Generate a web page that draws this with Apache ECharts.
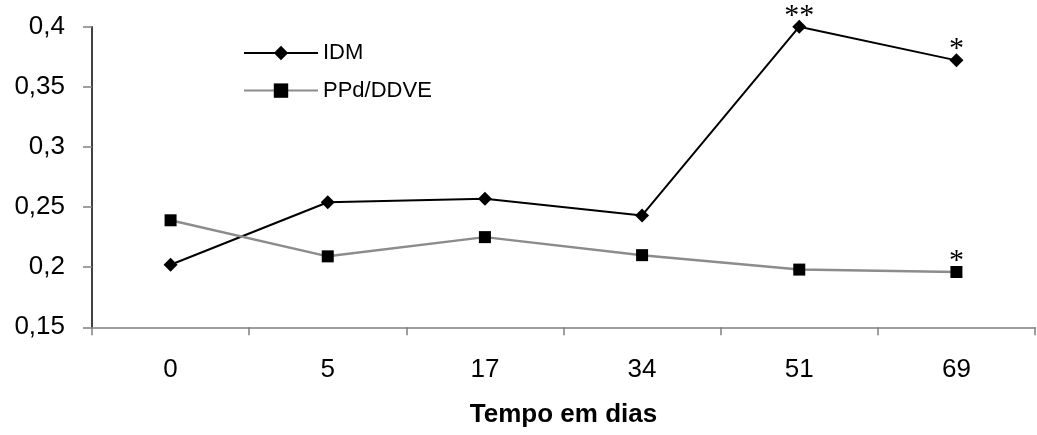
<!DOCTYPE html>
<html><head><meta charset="utf-8">
<script src="https://cdn.jsdelivr.net/npm/echarts@6/dist/echarts.min.js"></script>
<style>html,body{margin:0;padding:0;background:#fff}#c{width:1037px;height:435px}</style>
</head><body><div id="c"></div>
<script>
const categories = ['0', '5', '17', '34', '51', '69'];
const idmValues = [0.202, 0.254, 0.257, 0.243, 0.400, 0.372];
const ppdValues = [0.239, 0.209, 0.225, 0.210, 0.198, 0.196];
const idmMarks = ['', '', '', '', '**', '*'];
const ppdMarks = ['', '', '', '', '', '*'];
const yTicks = { min: 0.15, max: 0.4, interval: 0.05 };
const xAxisTitle = 'Tempo em dias';

const chart = echarts.init(document.getElementById('c'), null, { renderer: 'canvas' });
function fmtY(v) { return String(parseFloat(v.toFixed(2))).replace('.', ','); }
function markLabel(marks, dist) {
  return {
    show: true, position: 'top', distance: dist,
    formatter: p => marks[p.dataIndex],
    fontFamily: 'Liberation Serif', fontSize: 30, color: '#000'
  };
}
chart.setOption({
  animation: false,
  grid: { left: 92, right: 2, top: 26.7, bottom: 107.7, containLabel: false },
  legend: {
    orient: 'vertical', left: 243, top: 42, padding: 0,
    itemWidth: 74, itemHeight: 18, itemGap: 15.6,
    textStyle: { fontFamily: 'Liberation Sans', fontSize: 22, color: '#000' },
    data: ['IDM', 'PPd/DDVE']
  },
  xAxis: {
    type: 'category', data: categories, boundaryGap: true,
    axisLine: { lineStyle: { color: '#808080', width: 1.5 } },
    axisTick: { show: true, length: 8, lineStyle: { color: '#808080', width: 1.5 } },
    axisLabel: { fontFamily: 'Liberation Sans', fontSize: 26, color: '#000', margin: 30 },
    name: xAxisTitle, nameLocation: 'middle', nameGap: 75,
    nameTextStyle: { fontFamily: 'Liberation Sans', fontSize: 26, fontWeight: 'bold', color: '#000' }
  },
  yAxis: {
    type: 'value', min: yTicks.min, max: yTicks.max, interval: yTicks.interval,
    splitLine: { show: false },
    axisLine: { show: true, lineStyle: { color: '#000', width: 1.5 } },
    axisTick: { show: true, length: 9, lineStyle: { color: '#808080', width: 1.5 } },
    axisLabel: { fontFamily: 'Liberation Sans', fontSize: 26, color: '#000', margin: 27, formatter: fmtY }
  },
  series: [
    {
      name: 'IDM', type: 'line', data: idmValues,
      symbol: 'diamond', symbolSize: 14,
      lineStyle: { color: '#000', width: 2 },
      itemStyle: { color: '#000' },
      label: markLabel(idmMarks, -11)
    },
    {
      name: 'PPd/DDVE', type: 'line', data: ppdValues,
      symbol: 'rect', symbolSize: 12,
      lineStyle: { color: '#8c8c8c', width: 2.5 },
      itemStyle: { color: '#000' },
      label: markLabel(ppdMarks, -10.2)
    }
  ]
});
</script></body></html>
